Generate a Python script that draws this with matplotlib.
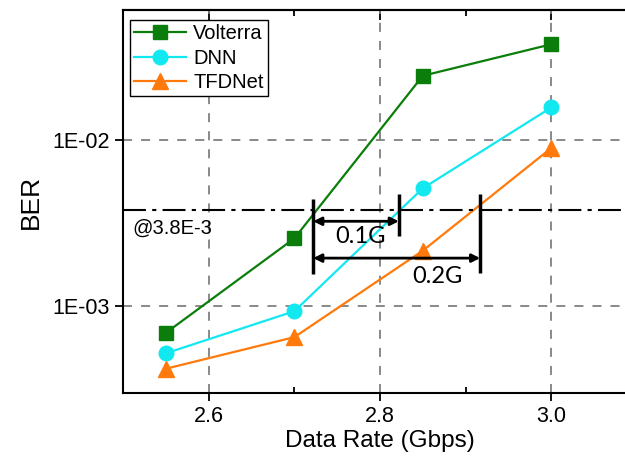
import matplotlib
matplotlib.use('Agg')
import matplotlib.pyplot as plt

plt.rcParams['font.family'] = ['Liberation Sans', 'DejaVu Sans']

rates = [2.55, 2.7, 2.85, 3.0]
ber_volterra = [6.9e-4, 2.55e-3, 2.42e-2, 3.74e-2]
ber_dnn = [5.2e-4, 9.3e-4, 5.1e-3, 1.56e-2]
ber_tfdnet = [4.2e-4, 6.5e-4, 2.15e-3, 8.9e-3]
threshold = 3.8e-3

# where each curve crosses the threshold
cross_volterra = 2.722
cross_dnn = 2.822
cross_tfdnet = 2.917

fig = plt.figure(figsize=(6.25, 4.61), dpi=100)
ax = fig.add_axes([0.197, 0.1475, 0.822, 0.8305])

ax.plot(rates, ber_volterra, color='#0b7d0b', marker='s', ms=10, lw=1.6, label='Volterra')
ax.plot(rates, ber_dnn, color='#12e8f0', marker='o', ms=10.5, lw=1.6, label='DNN')
ax.plot(rates, ber_tfdnet, color='#ff7a0a', marker='^', ms=11, lw=1.6, label='TFDNet')

ax.set_yscale('log')
ax.set_xlim(2.5, 3.1)
ax.set_ylim(3e-4, 6e-2)
ax.set_xticks([2.6, 2.8, 3.0])
ax.set_xticklabels(['2.6', '2.8', '3.0'])
ax.set_xticks([2.7, 2.9], minor=True)
ax.set_yticks([1e-3, 1e-2])
ax.set_yticklabels(['1E-03', '1E-02'])
ax.yaxis.set_minor_locator(matplotlib.ticker.NullLocator())

ax.grid(True, which='major', color='#808080', lw=1.3, dashes=(5, 5))
ax.axhline(threshold, color='black', lw=1.5, dashes=(11, 3, 2, 3))

ax.text(2.5105, 2.93e-3, '@3.8E-3', fontsize=14.5, va='center', ha='left')

# gap markers
ax.vlines(cross_volterra, 1.56e-3, 4.4e-3, color='black', lw=2.5)
ax.vlines(cross_dnn, 2.62e-3, 4.7e-3, color='black', lw=2.5)
ax.vlines(cross_tfdnet, 1.58e-3, 4.7e-3, color='black', lw=2.5)
ax.annotate('', xy=(cross_volterra, 3.23e-3), xytext=(cross_dnn, 3.23e-3),
            arrowprops=dict(arrowstyle='<|-|>', color='black', lw=2, mutation_scale=12,
                            shrinkA=0, shrinkB=0))
ax.annotate('', xy=(cross_volterra, 1.94e-3), xytext=(cross_tfdnet, 1.94e-3),
            arrowprops=dict(arrowstyle='<|-|>', color='black', lw=2, mutation_scale=12,
                            shrinkA=0, shrinkB=0))
ax.text(2.777, 2.6e-3, '0.1G', fontsize=17, ha='center', va='center', family='Lato')
ax.text(2.867, 1.5e-3, '0.2G', fontsize=17, ha='center', va='center', family='Lato')

ax.set_xlabel('Data Rate (Gbps)', fontsize=17.5, labelpad=2)
ax.set_ylabel('BER', fontsize=19, labelpad=7)

for s in ['left', 'top', 'bottom']:
    ax.spines[s].set_linewidth(1.5)
ax.spines['right'].set_visible(False)
ax.tick_params(axis='both', which='major', labelsize=15.5, direction='out', length=6, width=1.3)
ax.tick_params(axis='x', which='minor', direction='in', length=4, width=1.3)

top = ax.secondary_xaxis('top')
top.set_xticks([2.6, 2.8, 3.0])
top.set_xticks([2.7, 2.9], minor=True)
top.tick_params(which='major', direction='in', length=7, width=1.3, labeltop=False)
top.tick_params(which='minor', direction='in', length=4, width=1.3)
top.set_xticklabels([])
top.spines['top'].set_linewidth(1.5)

leg = ax.legend(loc='upper left', bbox_to_anchor=(0.005, 0.985), fontsize=14.5, fancybox=False,
                edgecolor='black', framealpha=1, handlelength=2.6, borderpad=0.2,
                labelspacing=0.28, handletextpad=0.35, borderaxespad=0.2)
leg.get_frame().set_linewidth(1.0)

fig.savefig('out.png', dpi=100)
